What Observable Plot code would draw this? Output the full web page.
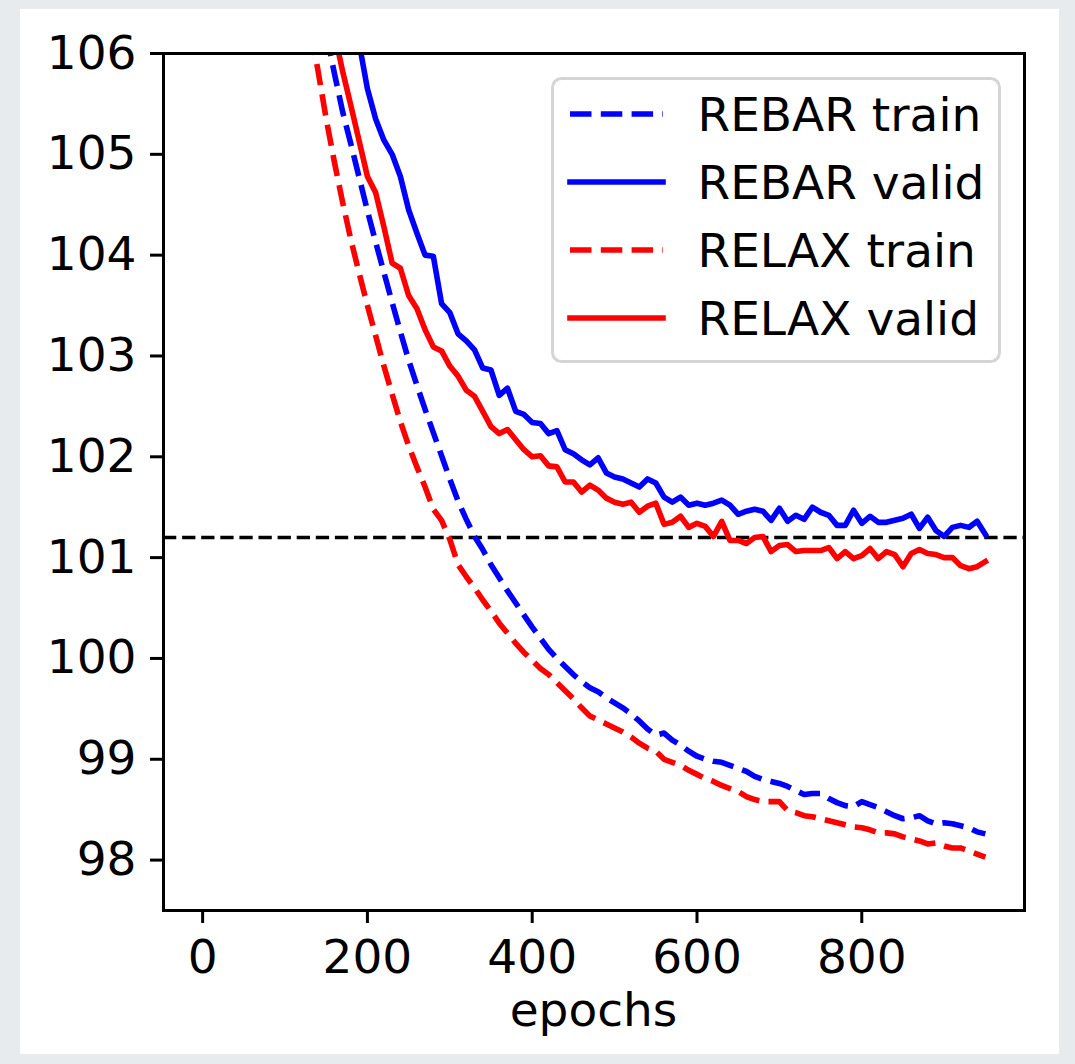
<!DOCTYPE html>
<html>
<head>
<meta charset="utf-8">
<script src="https://cdn.jsdelivr.net/npm/d3@7"></script>
<script src="https://cdn.jsdelivr.net/npm/@observablehq/plot@0.6"></script>
<style>
  html, body { margin: 0; padding: 0; }
  body { width: 1075px; height: 1064px; background: #e8ebee; position: relative; overflow: hidden; font-family: "DejaVu Sans", sans-serif; }
  #panel { position: absolute; left: 20px; top: 9px; width: 1039px; height: 1045px; background: #ffffff; }
  #legend { position: absolute; left: 0; top: 0; }
</style>
</head>
<body>
<div id="panel"></div>
<svg id="legend" width="1075" height="1064"></svg>
<script>
// ---- data ----
const epochs = d3.range(120, 951, 10); // 120, 130, ..., 950

const rebarTrain = [
  108.0, 107.4, 106.8, 106.2, 105.8, 105.42, 105.1, 104.77, 104.44, 104.13,
  103.83, 103.53, 103.24, 102.96, 102.71, 102.47, 102.24, 102.01, 101.78, 101.56,
  101.38, 101.21, 101.08, 100.93, 100.80, 100.67, 100.55, 100.43, 100.31, 100.20,
  100.09, 100.00, 99.92, 99.84, 99.77, 99.71, 99.67, 99.61, 99.56, 99.51,
  99.45, 99.38, 99.30, 99.24, 99.26, 99.19, 99.14, 99.08, 99.03, 99.00,
  98.98, 98.97, 98.94, 98.91, 98.88, 98.83, 98.80, 98.78, 98.76, 98.73,
  98.69, 98.65, 98.66, 98.66, 98.61, 98.57, 98.54, 98.53, 98.58, 98.55,
  98.52, 98.48, 98.44, 98.41, 98.42, 98.44, 98.39, 98.36, 98.37, 98.36,
  98.34, 98.32, 98.28, 98.26
];

const rebarValid = [
  110.5, 109.6, 108.8, 108.1, 107.5, 107.0, 106.55, 106.1, 105.65, 105.35,
  105.14, 105.0, 104.78, 104.45, 104.22, 104.0, 103.99, 103.52, 103.43, 103.22,
  103.15, 103.06, 102.88, 102.86, 102.61, 102.68, 102.45, 102.42, 102.34, 102.33,
  102.23, 102.26, 102.07, 102.03, 101.97, 101.92, 101.99, 101.84, 101.80, 101.78,
  101.74, 101.70, 101.78, 101.74, 101.60, 101.55, 101.60, 101.52, 101.54, 101.52,
  101.54, 101.57, 101.52, 101.43, 101.46, 101.48, 101.46, 101.37, 101.49, 101.36,
  101.42, 101.38, 101.50, 101.45, 101.42, 101.32, 101.32, 101.47, 101.34, 101.41,
  101.35, 101.35, 101.37, 101.39, 101.43, 101.29, 101.40, 101.27, 101.21, 101.30,
  101.32, 101.30, 101.36, 101.23
];

const relaxTrain = [
  106.8, 106.3, 105.83, 105.35, 104.92, 104.52, 104.15, 103.82, 103.50, 103.20,
  102.90, 102.62, 102.35, 102.11, 101.90, 101.70, 101.48, 101.37, 101.18, 100.93,
  100.81, 100.70, 100.58, 100.47, 100.35, 100.25, 100.15, 100.06, 99.98, 99.90,
  99.84, 99.76, 99.68, 99.60, 99.51, 99.43, 99.39, 99.35, 99.31, 99.27,
  99.22, 99.16, 99.11, 99.08, 99.00, 98.97, 98.94, 98.89, 98.85, 98.81,
  98.78, 98.74, 98.71, 98.68, 98.63, 98.60, 98.58, 98.58, 98.58, 98.49,
  98.47, 98.44, 98.43, 98.41, 98.39, 98.37, 98.35, 98.33, 98.32, 98.30,
  98.27, 98.27, 98.26, 98.23, 98.21, 98.19, 98.16, 98.17, 98.14, 98.12,
  98.12, 98.09, 98.06, 98.03
];

const relaxValid = [
  108.8, 108.0, 107.3, 106.7, 106.2, 105.82, 105.48, 105.13, 104.78, 104.62,
  104.28, 103.92, 103.87, 103.60, 103.47, 103.26, 103.09, 103.05, 102.90, 102.80,
  102.66, 102.60, 102.45, 102.30, 102.23, 102.27, 102.17, 102.07, 102.00, 102.01,
  101.91, 101.90, 101.75, 101.75, 101.65, 101.72, 101.67, 101.59, 101.55, 101.53,
  101.55, 101.45, 101.51, 101.54, 101.33, 101.35, 101.41, 101.30, 101.34, 101.31,
  101.21, 101.36, 101.17, 101.17, 101.14, 101.20, 101.21, 101.06, 101.12, 101.13,
  101.06, 101.07, 101.07, 101.07, 101.10, 100.99, 101.06, 100.99, 101.02, 101.09,
  100.99, 101.06, 101.03, 100.91, 101.04, 101.08, 101.04, 101.03, 101.00, 101.00,
  100.92, 100.89, 100.91, 100.96
];

const referenceLine = [101.2];
const xTicks = [0, 200, 400, 600, 800];
const yTicks = [98, 99, 100, 101, 102, 103, 104, 105, 106];

const seriesNames = ["REBAR train", "REBAR valid", "RELAX train", "RELAX valid"];
const seriesColors = ["#0000ff", "#0000ff", "#ff0000", "#ff0000"];
const seriesDashed = [true, false, true, false];
const seriesValues = [rebarTrain, rebarValid, relaxTrain, relaxValid];

// ---- styles ----
const LW = 5.6;
const DASH = "21.5,9.3";
const FONT = 47;

function lineMark(values, color, dashed) {
  return Plot.line(values, {
    x: (d, i) => epochs[i],
    y: d => d,
    stroke: color,
    strokeWidth: LW,
    strokeDasharray: dashed ? DASH : null,
    strokeLinejoin: "round",
    strokeLinecap: dashed ? "butt" : "square",
    clip: true
  });
}

const chart = Plot.plot({
  width: 1039,
  height: 1045,
  marginLeft: 143,
  marginTop: 44,
  marginRight: 35,
  marginBottom: 144,
  style: { fontFamily: "DejaVu Sans", fontSize: FONT + "px", background: "transparent", color: "black" },
  x: { domain: [-47.5, 997.5] },
  y: { domain: [97.5, 106] },
  marks: [
    Plot.ruleY(referenceLine, { stroke: "black", strokeWidth: 3.6, strokeDasharray: "13.3,5.8" }),
    ...seriesValues.map((v, k) => lineMark(v, seriesColors[k], seriesDashed[k])),
    Plot.frame({ stroke: "black", strokeWidth: 3 }),
    Plot.axisY({ ticks: yTicks, tickFormat: d => String(d), tickSize: 13, tickPadding: 14, strokeWidth: 3, fontSize: FONT, label: null }),
    Plot.axisX({ ticks: xTicks, tickFormat: d => String(d), tickSize: 13, tickPadding: 16, strokeWidth: 3, fontSize: FONT, label: null })
  ]
});
chart.style.position = "absolute";
chart.style.left = "0px";
chart.style.top = "0px";
document.getElementById("panel").appendChild(chart);

// x-axis title
d3.select(chart).append("text")
  .attr("x", 573.5).attr("y", 1017)
  .attr("text-anchor", "middle")
  .attr("font-family", "DejaVu Sans")
  .attr("font-size", FONT)
  .attr("fill", "black")
  .text("epochs");

// ---- legend ----
const leg = d3.select("#legend");
leg.append("rect")
  .attr("x", 552.5).attr("y", 78.5).attr("width", 447).attr("height", 283)
  .attr("rx", 9).attr("ry", 9)
  .attr("fill", "rgba(255,255,255,0.8)")
  .attr("stroke", "#d5d5d5").attr("stroke-width", 3);
const rowY = [114, 182, 250, 318];
seriesNames.forEach((name, k) => {
  leg.append("line")
    .attr("x1", 570).attr("x2", 663)
    .attr("y1", rowY[k]).attr("y2", rowY[k])
    .attr("stroke", seriesColors[k]).attr("stroke-width", LW)
    .attr("stroke-dasharray", seriesDashed[k] ? DASH : null)
    .attr("stroke-linecap", seriesDashed[k] ? "butt" : "square");
  leg.append("text")
    .attr("x", 697.5).attr("y", rowY[k] + 17)
    .attr("font-family", "DejaVu Sans").attr("font-size", FONT)
    .attr("fill", "black")
    .text(name);
});
</script>
</body>
</html>
